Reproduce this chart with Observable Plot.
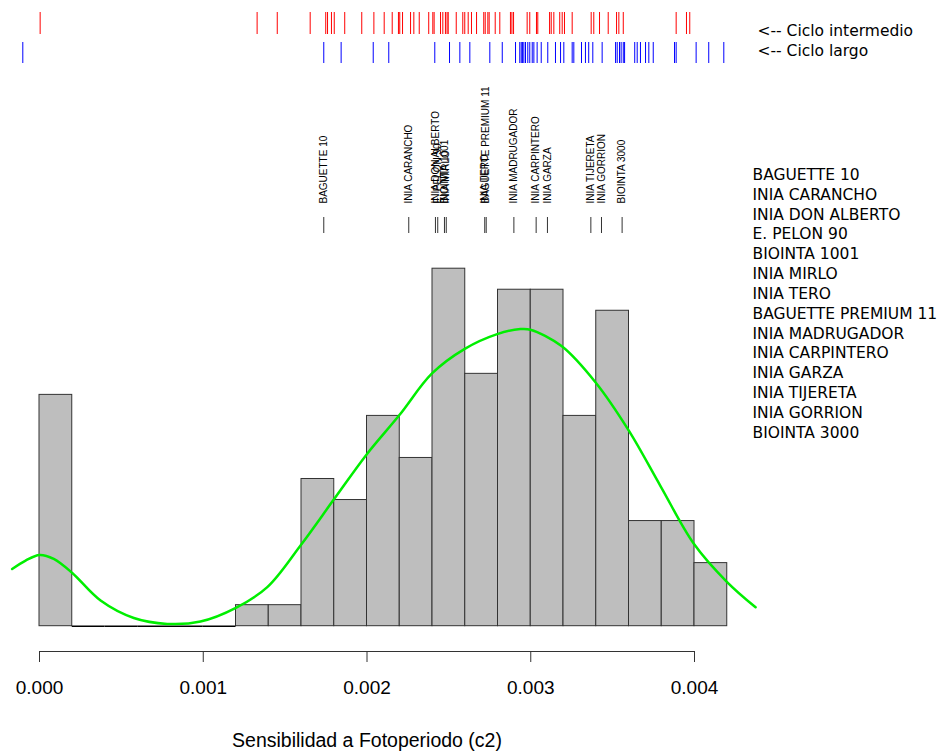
<!DOCTYPE html>
<html>
<head>
<meta charset="utf-8">
<script src="https://cdn.jsdelivr.net/npm/d3@7"></script>
<script src="https://cdn.jsdelivr.net/npm/@observablehq/plot@0.6"></script>
<style>
  html, body { margin: 0; padding: 0; background: #fff; }
</style>
</head>
<body>
<div id="chart"></div>
<script>
// Histogram bins (start of each bin) and counts
const binStarts = [0, 0.0002, 0.0004, 0.0006, 0.0008, 0.0010, 0.0012, 0.0014, 0.0016, 0.0018,
  0.0020, 0.0022, 0.0024, 0.0026, 0.0028, 0.0030, 0.0032, 0.0034, 0.0036, 0.0038, 0.0040];
const binWidth = 0.0002;
const counts = [11, 0, 0, 0, 0, 0, 1, 1, 7, 6, 10, 8, 17, 12, 16, 16, 10, 15, 5, 5, 3];

// Density curve (x value, height in count units)
const curveX = [-0.000167, -0.000085, 0, 0.000087, 0.000200, 0.000373, 0.000576, 0.000780, 0.000983,
  0.001199, 0.001391, 0.001594, 0.001797, 0.001999, 0.002198, 0.002397, 0.002597, 0.002795,
  0.002937, 0.002998, 0.003188, 0.003395, 0.003598, 0.003794, 0.003996, 0.004199, 0.004373];
const curveY = [2.72, 3.12, 3.39, 3.20, 2.53, 1.22, 0.39, 0.11, 0.22,
  0.87, 1.86, 3.84, 6.02, 8.18, 10.04, 12.02, 13.19, 13.89,
  14.13, 14.10, 13.32, 11.60, 9.31, 6.64, 3.92, 2.10, 0.90];

// Rug: intermediate cycle (red)
const cicloIntermedio = [0.000004, 0.001329, 0.001452, 0.001653, 0.001748, 0.001759, 0.001783, 0.001800,
  0.001864, 0.001968, 0.002042, 0.002105, 0.002154, 0.002192, 0.002200, 0.002217, 0.002266, 0.002286,
  0.002319, 0.002377, 0.002402, 0.002410, 0.002449, 0.002463, 0.002479, 0.002489, 0.002496, 0.002545,
  0.002585, 0.002597, 0.002618, 0.002638, 0.002669, 0.002713, 0.002722, 0.002738, 0.002746, 0.002783,
  0.002811, 0.002876, 0.002885, 0.002895, 0.002978, 0.002994, 0.003035, 0.003043, 0.003115, 0.003125,
  0.003141, 0.003177, 0.003192, 0.003206, 0.003253, 0.003369, 0.003385, 0.003420, 0.003473, 0.003524,
  0.003538, 0.003565, 0.003888, 0.003951, 0.003971];

// Rug: long cycle (blue)
const cicloLargo = [-0.000102, 0.001736, 0.001842, 0.002038, 0.002133, 0.002414, 0.002504, 0.002567,
  0.002628, 0.002750, 0.002826, 0.002907, 0.002933, 0.002942, 0.002950, 0.002958, 0.002968, 0.002982,
  0.002994, 0.003009, 0.003019, 0.003039, 0.003064, 0.003104, 0.003151, 0.003182, 0.003202, 0.003253,
  0.003263, 0.003310, 0.003334, 0.003354, 0.003379, 0.003436, 0.003518, 0.003528, 0.003542, 0.003552,
  0.003565, 0.003573, 0.003635, 0.003650, 0.003670, 0.003701, 0.003721, 0.003748, 0.003878, 0.003888,
  0.004010, 0.004087, 0.004179];

// Named varieties
const varieties = ["BAGUETTE 10", "INIA CARANCHO", "INIA DON ALBERTO", "E. PELON 90", "BIOINTA 1001",
  "INIA MIRLO", "INIA TERO", "BAGUETTE PREMIUM 11", "INIA MADRUGADOR", "INIA CARPINTERO",
  "INIA GARZA", "INIA TIJERETA", "INIA GORRION", "BIOINTA 3000"];
const varietyValues = [0.001736, 0.002255, 0.002418, 0.002432, 0.002473, 0.002484, 0.002719, 0.002728,
  0.002897, 0.003033, 0.003102, 0.003367, 0.003432, 0.003558];

const xTicks = [0, 0.001, 0.002, 0.003, 0.004];
const xLabel = "Sensibilidad a Fotoperiodo (c2)";
const rugLabels = ["<-- Ciclo intermedio", "<-- Ciclo largo"];

const bins = binStarts.map((s, i) => ({x1: s, x2: s + binWidth, count: counts[i]}));
const curve = curveX.map((x, i) => ({x, y: curveY[i]}));

const chart = Plot.plot({
  width: 940,
  height: 751,
  marginLeft: 39,
  marginRight: 246,
  marginTop: 0,
  marginBottom: 100,
  style: {fontFamily: "Liberation Sans", background: "#fff", color: "#000"},
  x: {domain: [0, 0.004]},
  y: {domain: [0, 17], range: [625.7, 268.2], axis: null},
  marks: [
    // rugs
    Plot.ruleX(cicloIntermedio, {x: d => d, stroke: "#ff0000", strokeWidth: 1, insetTop: 12, insetBottom: 617}),
    Plot.ruleX(cicloLargo, {x: d => d, stroke: "#0000ff", strokeWidth: 1, insetTop: 42, insetBottom: 588}),
    Plot.text([rugLabels.join("\n")], {frameAnchor: "top-right", dx: 63, dy: 39, textAnchor: "start",
      lineAnchor: "middle", lineHeight: 1.29, fontSize: 15.5, fontFamily: "DejaVu Sans", fill: "#000"}),
    // variety markers
    Plot.ruleX(varietyValues, {x: d => d, stroke: "#333", strokeWidth: 1, insetTop: 217, insetBottom: 418}),
    Plot.text(varieties, {x: (d, i) => varietyValues[i], text: d => d, frameAnchor: "top", dy: 203,
      rotate: -90, textAnchor: "start", lineAnchor: "middle", fontSize: 10, fill: "#000"}),
    Plot.text([varieties.join("\n")], {frameAnchor: "top-right", dx: 58, dy: 302, textAnchor: "start",
      lineAnchor: "middle", lineHeight: 1.28, fontSize: 15.5, fontFamily: "DejaVu Sans", fill: "#000"}),
    // histogram
    Plot.rectY(bins.filter(d => d.count > 0), {x1: "x1", x2: "x2", y: "count", fill: "#bebebe",
      stroke: "#333", strokeWidth: 1, inset: 0}),
    Plot.ruleY(bins.filter(d => d.count === 0), {x1: "x1", x2: "x2", y: 0, stroke: "#000", strokeWidth: 1.5}),
    // density curve
    Plot.line(curve, {x: "x", y: "y", stroke: "#00ee00", strokeWidth: 2.5, curve: "catmull-rom"}),
    // axis
    Plot.frame({anchor: "bottom", stroke: "#333"}),
    Plot.axisX({ticks: xTicks, tickFormat: d3.format(".3f"), tickSize: 11, tickPadding: 18,
      fontSize: 19, stroke: "#333", label: null}),
    Plot.text([xLabel], {frameAnchor: "bottom", dy: 89, lineAnchor: "middle", fontSize: 19.5, fill: "#000"})
  ]
});
document.getElementById("chart").appendChild(chart);
</script>
</body>
</html>
